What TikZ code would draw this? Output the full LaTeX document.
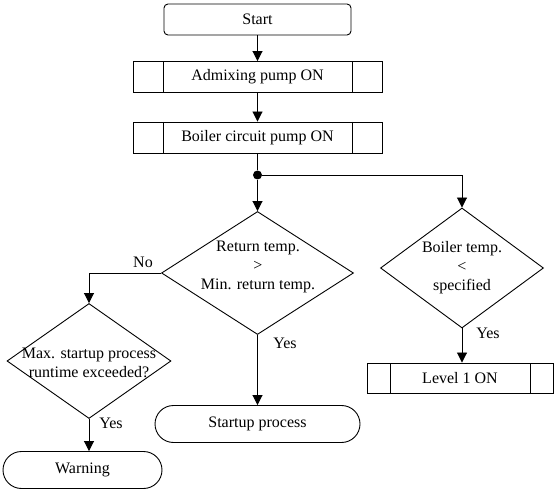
\documentclass[tikz,border=0pt]{standalone}
\usepackage{fontspec}
\setmainfont{Liberation Serif}
\usetikzlibrary{shapes.geometric,shapes.misc,arrows.meta}
\begin{document}
\begin{tikzpicture}[x=1pt,y=-1pt,
  font=\fontsize{16}{19}\selectfont,
  line width=0.9pt,
  term/.style={draw, rectangle, rounded corners=4pt, minimum width=187pt, minimum height=31pt, inner sep=0pt},
  proc/.style={draw, rectangle, minimum width=249pt, minimum height=31pt, inner sep=0pt,
    path picture={
      \draw ([xshift=#1]path picture bounding box.north west) -- ([xshift=#1]path picture bounding box.south west);
      \draw ([xshift=-#1]path picture bounding box.north east) -- ([xshift=-#1]path picture bounding box.south east);
    }},
  stad/.style={draw, rounded rectangle, inner sep=0pt},
  decision/.style={draw, diamond, inner sep=0pt},
  txt/.style={align=center, inner sep=0pt},
  lbl/.style={inner sep=0pt},
  arr/.style={-{Triangle[length=10pt,width=10pt]}}
]
\useasboundingbox (0,0) rectangle (557,494);

\node[term] (start) at (257.5,19.5) {Start};
\node[proc=30pt] (p1) at (257.5,77) {Admixing pump ON};
\node[proc=30pt] (p2) at (257.5,137.5) {Boiler circuit pump ON};
\node[circle, fill, inner sep=0pt, minimum size=9pt] (dot) at (257.5,175) {};

\node[decision, minimum width=192pt, minimum height=123pt] (d1) at (257.5,273) {};
\node[txt] (t1) at (258,267) {Return temp.\\>\\Min. return temp.};

\node[decision, minimum width=163pt, minimum height=120pt] (d3) at (462,268) {};
\node[txt] (t3) at (462,268) {Boiler temp.\\<\\specified};

\node[decision, minimum width=164pt, minimum height=115pt] (d2) at (89,361) {};
\node[txt] (t2) at (89,363) {Max. startup process\\runtime exceeded?};

\node[stad, minimum width=205pt, minimum height=37pt] (sp) at (257.5,424) {Startup process};
\node[stad, minimum width=159pt, minimum height=37pt] (warn) at (82.5,470) {Warning};
\node[proc=23pt, minimum width=186pt, minimum height=30pt] (lvl) at (460,378) {Level 1 ON};

\draw[arr] (start) -- (p1);
\draw[arr] (p1) -- (p2);
\draw (p2) -- (dot);
\draw[arr] (dot) -- (d1.north);
\draw[arr] (dot) -| (d3.north);
\draw[arr] (d1.west) -| (d2.north);
\draw[arr] (d1.south) -- (d1.south |- sp.north);
\draw[arr] (d2.south) -- (d2.south |- warn.north);
\draw[arr] (d3.south) -- (d3.south |- lvl.north);

\node[lbl] (lno) at (143,262) {No};
\node[lbl] (ly1) at (285,343) {Yes};
\node[lbl] (ly2) at (111,423) {Yes};
\node[lbl] (ly3) at (488,333) {Yes};
\end{tikzpicture}
\end{document}
